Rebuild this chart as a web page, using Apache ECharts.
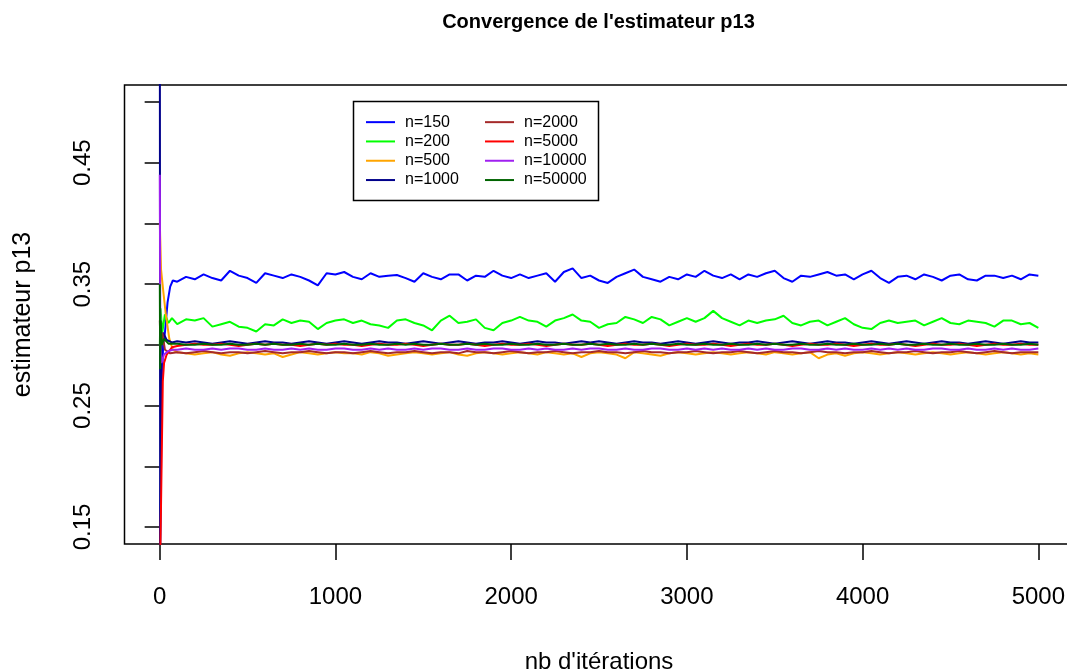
<!DOCTYPE html>
<html>
<head>
<meta charset="utf-8">
<script src="https://cdn.jsdelivr.net/npm/echarts@6/dist/echarts.min.js"></script>
<style>
  html, body { margin: 0; padding: 0; background: #fff; }
  #chart { width: 1067px; height: 672px; }
</style>
</head>
<body>
<div id="chart"></div>
<script>
// iterations où l'estimateur est relevé (après la phase de démarrage)
var iterations = [
  100,150,200,250,300,350,400,450,500,550,
  600,650,700,750,800,850,900,950,1000,1050,
  1100,1150,1200,1250,1300,1350,1400,1450,1500,1550,
  1600,1650,1700,1750,1800,1850,1900,1950,2000,2050,
  2100,2150,2200,2250,2300,2350,2400,2450,2500,2550,
  2600,2650,2700,2750,2800,2850,2900,2950,3000,3050,
  3100,3150,3200,3250,3300,3350,3400,3450,3500,3550,
  3600,3650,3700,3750,3800,3850,3900,3950,4000,4050,
  4100,4150,4200,4250,4300,4350,4400,4450,4500,4550,
  4600,4650,4700,4750,4800,4850,4900,4950,5000
];

// premières itérations : [iteration, p13]
var debut150 = [[1,0.12],[8,0.20],[10,0.256],[20,0.30],[30,0.31],[45,0.335],[60,0.348],[75,0.353]];
var debut200 = [[1,0.30],[5,0.33],[15,0.31],[30,0.325],[50,0.318],[70,0.322]];
var debut500 = [[1,0.40],[8,0.362],[20,0.345],[35,0.325],[55,0.305],[75,0.296]];
var debut1000 = [[1,0.60],[3,0.13],[6,0.20],[10,0.30],[20,0.31],[40,0.304],[70,0.302]];
var debut2000 = [[1,0.32],[5,0.30],[15,0.31],[30,0.296],[60,0.293]];
var debut5000 = [[1,0.10],[18,0.27],[25,0.285],[40,0.292],[70,0.298]];
var debut10000 = [[1,0.44],[4,0.30],[10,0.285],[25,0.292],[50,0.295],[75,0.296]];
var debut50000 = [[1,0.35],[3,0.28],[6,0.32],[12,0.30],[25,0.305],[50,0.301]];

var p150 = [
  0.352,0.356,0.354,0.358,0.355,0.353,0.361,0.357,0.355,0.351,
  0.359,0.357,0.355,0.358,0.356,0.353,0.349,0.359,0.358,0.360,
  0.356,0.354,0.359,0.356,0.357,0.3575,0.355,0.352,0.359,0.356,
  0.354,0.358,0.358,0.353,0.357,0.356,0.361,0.357,0.355,0.358,
  0.355,0.357,0.359,0.352,0.360,0.363,0.355,0.357,0.353,0.351,
  0.356,0.359,0.362,0.356,0.354,0.352,0.356,0.354,0.358,0.356,
  0.361,0.357,0.355,0.358,0.354,0.358,0.356,0.359,0.361,0.355,
  0.352,0.357,0.356,0.358,0.360,0.357,0.358,0.354,0.358,0.361,
  0.355,0.351,0.356,0.357,0.354,0.358,0.356,0.353,0.357,0.358,
  0.354,0.353,0.357,0.357,0.355,0.357,0.354,0.358,0.357
];
var p200 = [
  0.317,0.321,0.320,0.322,0.315,0.317,0.319,0.315,0.314,0.311,
  0.317,0.316,0.321,0.318,0.320,0.319,0.313,0.318,0.320,0.321,
  0.318,0.320,0.317,0.316,0.314,0.320,0.321,0.318,0.316,0.312,
  0.320,0.324,0.318,0.319,0.321,0.314,0.312,0.318,0.320,0.323,
  0.320,0.319,0.315,0.320,0.322,0.325,0.320,0.319,0.314,0.317,
  0.318,0.323,0.321,0.318,0.323,0.321,0.316,0.319,0.322,0.319,
  0.322,0.328,0.322,0.319,0.316,0.320,0.318,0.320,0.321,0.324,
  0.318,0.316,0.319,0.320,0.316,0.319,0.322,0.317,0.314,0.313,
  0.318,0.320,0.318,0.319,0.320,0.316,0.319,0.322,0.318,0.317,
  0.320,0.319,0.318,0.315,0.320,0.320,0.317,0.318,0.314
];
var p500 = [
  0.294,0.293,0.292,0.293,0.294,0.292,0.291,0.293,0.294,0.293,
  0.292,0.293,0.290,0.292,0.294,0.293,0.292,0.293,0.294,0.293,
  0.293,0.292,0.294,0.293,0.291,0.292,0.293,0.294,0.293,0.292,
  0.293,0.294,0.292,0.291,0.293,0.294,0.293,0.292,0.293,0.294,
  0.293,0.292,0.294,0.293,0.292,0.293,0.290,0.293,0.294,0.293,
  0.292,0.289,0.294,0.293,0.292,0.291,0.293,0.294,0.293,0.292,
  0.293,0.294,0.293,0.292,0.293,0.294,0.293,0.292,0.294,0.293,
  0.292,0.293,0.294,0.289,0.292,0.293,0.291,0.293,0.294,0.293,
  0.292,0.293,0.294,0.293,0.292,0.293,0.294,0.293,0.292,0.293,
  0.294,0.293,0.292,0.293,0.294,0.293,0.292,0.293,0.292
];
var p1000 = [
  0.303,0.302,0.303,0.302,0.301,0.302,0.303,0.302,0.301,0.302,
  0.303,0.302,0.302,0.301,0.302,0.303,0.302,0.301,0.302,0.303,
  0.302,0.301,0.302,0.303,0.302,0.302,0.301,0.302,0.303,0.302,
  0.301,0.302,0.303,0.302,0.301,0.302,0.302,0.303,0.302,0.301,
  0.302,0.303,0.302,0.302,0.301,0.302,0.303,0.302,0.303,0.302,
  0.301,0.302,0.303,0.302,0.302,0.301,0.302,0.303,0.302,0.301,
  0.302,0.303,0.302,0.301,0.302,0.302,0.303,0.302,0.301,0.302,
  0.303,0.302,0.301,0.302,0.303,0.302,0.302,0.301,0.302,0.303,
  0.302,0.301,0.302,0.303,0.302,0.301,0.302,0.303,0.302,0.302,
  0.301,0.302,0.303,0.302,0.301,0.302,0.303,0.302,0.302
];
var p2000 = [
  0.294,0.293,0.294,0.295,0.294,0.293,0.294,0.294,0.293,0.294,
  0.295,0.294,0.293,0.294,0.294,0.295,0.294,0.293,0.294,0.294,
  0.293,0.294,0.295,0.294,0.293,0.294,0.294,0.295,0.294,0.293,
  0.294,0.294,0.293,0.295,0.294,0.294,0.293,0.294,0.295,0.294,
  0.293,0.294,0.294,0.295,0.294,0.293,0.294,0.294,0.295,0.294,
  0.294,0.293,0.294,0.295,0.294,0.294,0.293,0.294,0.294,0.295,
  0.294,0.293,0.294,0.294,0.295,0.294,0.293,0.294,0.295,0.294,
  0.294,0.293,0.294,0.295,0.294,0.294,0.293,0.294,0.294,0.295,
  0.294,0.293,0.294,0.294,0.295,0.294,0.293,0.294,0.294,0.295,
  0.294,0.293,0.294,0.295,0.294,0.293,0.294,0.294,0.294
];
var p5000 = [
  0.299,0.300,0.301,0.300,0.300,0.301,0.300,0.299,0.300,0.301,
  0.300,0.301,0.300,0.300,0.299,0.300,0.301,0.300,0.301,0.300,
  0.300,0.299,0.300,0.301,0.300,0.300,0.301,0.300,0.299,0.300,
  0.301,0.300,0.300,0.301,0.300,0.299,0.300,0.301,0.300,0.300,
  0.301,0.300,0.299,0.300,0.301,0.300,0.300,0.301,0.300,0.299,
  0.300,0.301,0.300,0.300,0.301,0.300,0.299,0.300,0.301,0.300,
  0.300,0.301,0.300,0.299,0.300,0.301,0.300,0.300,0.301,0.300,
  0.299,0.300,0.301,0.300,0.300,0.301,0.300,0.299,0.300,0.301,
  0.300,0.300,0.301,0.300,0.299,0.300,0.301,0.300,0.300,0.301,
  0.300,0.299,0.300,0.301,0.300,0.300,0.301,0.300,0.300
];
var p10000 = [
  0.296,0.297,0.296,0.296,0.297,0.296,0.297,0.297,0.296,0.296,
  0.297,0.296,0.296,0.297,0.296,0.297,0.296,0.296,0.297,0.297,
  0.296,0.296,0.297,0.296,0.297,0.296,0.296,0.297,0.296,0.297,
  0.297,0.296,0.296,0.297,0.296,0.296,0.297,0.297,0.296,0.296,
  0.297,0.296,0.297,0.296,0.296,0.297,0.296,0.297,0.297,0.296,
  0.296,0.297,0.296,0.296,0.297,0.297,0.296,0.296,0.297,0.296,
  0.297,0.296,0.297,0.296,0.296,0.297,0.296,0.297,0.296,0.296,
  0.297,0.297,0.296,0.296,0.297,0.296,0.297,0.296,0.296,0.297,
  0.296,0.297,0.296,0.297,0.296,0.296,0.297,0.297,0.296,0.296,
  0.297,0.296,0.296,0.297,0.296,0.297,0.296,0.296,0.297
];
var p50000 = [
  0.301,0.300,0.300,0.301,0.300,0.300,0.301,0.300,0.300,0.301,
  0.300,0.301,0.300,0.300,0.301,0.300,0.301,0.300,0.300,0.301,
  0.300,0.300,0.301,0.300,0.300,0.301,0.300,0.301,0.300,0.300,
  0.301,0.300,0.300,0.301,0.300,0.301,0.300,0.300,0.301,0.300,
  0.300,0.301,0.300,0.300,0.301,0.300,0.300,0.301,0.300,0.301,
  0.300,0.300,0.301,0.300,0.301,0.300,0.300,0.301,0.300,0.300,
  0.301,0.300,0.300,0.301,0.300,0.300,0.301,0.300,0.301,0.300,
  0.300,0.301,0.300,0.300,0.301,0.300,0.300,0.301,0.300,0.300,
  0.301,0.300,0.301,0.300,0.300,0.301,0.300,0.300,0.301,0.300,
  0.300,0.301,0.300,0.300,0.301,0.300,0.300,0.301,0.300
];

var noms = ['n=150','n=200','n=500','n=1000','n=2000','n=5000','n=10000','n=50000'];
var couleurs = ['#0000FF','#00FF00','#FFA500','#00008B','#A52A2A','#FF0000','#A020F0','#006400'];
var debuts = [debut150, debut200, debut500, debut1000, debut2000, debut5000, debut10000, debut50000];
var valeurs = [p150, p200, p500, p1000, p2000, p5000, p10000, p50000];

var xTicks = [0, 1000, 2000, 3000, 4000, 5000];
var yTicks = [0.15, 0.20, 0.25, 0.30, 0.35, 0.40, 0.45, 0.50];
var yLabels = [0.15, 0.25, 0.35, 0.45];

var police = 'Liberation Sans, Arial, sans-serif';

var myChart = echarts.init(document.getElementById('chart'));

var series = noms.map(function (nom, k) {
  var pts = debuts[k].concat(iterations.map(function (it, i) { return [it, valeurs[k][i]]; }));
  return {
    name: nom,
    type: 'line',
    data: pts,
    showSymbol: false,
    symbol: 'none',
    lineStyle: { color: couleurs[k], width: 2 },
    itemStyle: { color: couleurs[k] },
    animation: false
  };
});

var legendeCommune = {
  orient: 'vertical',
  top: 112.5,
  padding: 0,
  itemGap: 0,
  itemWidth: 29,
  itemHeight: 2,
  icon: 'rect',
  selectedMode: false,
  textStyle: { fontFamily: police, fontSize: 16, color: '#000', lineHeight: 19.3, padding: [0, 0, 0, 5] }
};

var option = {
  backgroundColor: '#fff',
  animation: false,
  title: {
    text: "Convergence de l'estimateur p13",
    left: 598.5,
    top: 12,
    padding: 0,
    textAlign: 'center',
    textStyle: { fontFamily: police, fontSize: 20, fontWeight: 'bold', color: '#000' }
  },
  legend: [
    Object.assign({}, legendeCommune, { left: 366, data: noms.slice(0, 4) }),
    Object.assign({}, legendeCommune, { left: 485, data: noms.slice(4) })
  ],
  graphic: [{
    type: 'rect',
    shape: { x: 353.5, y: 101.5, width: 245, height: 99 },
    style: { fill: 'none', stroke: '#000', lineWidth: 1.5 },
    z: 10
  }],
  grid: {
    left: 124.5,
    top: 85,
    width: 949,
    height: 459,
    outerBoundsMode: 'none',
    show: true,
    borderColor: '#000',
    borderWidth: 1.5,
    backgroundColor: 'transparent'
  },
  xAxis: {
    type: 'value',
    min: -200,
    max: 5200,
    name: "nb d'itérations",
    nameLocation: 'middle',
    nameGap: 106,
    nameTextStyle: { fontFamily: police, fontSize: 24, color: '#000' },
    axisLine: { show: false },
    splitLine: { show: false },
    axisTick: { show: true, length: 16, customValues: xTicks, lineStyle: { color: '#000', width: 1.5 } },
    axisLabel: {
      customValues: xTicks,
      margin: 41,
      fontFamily: police,
      fontSize: 24,
      color: '#000',
      formatter: function (v) { return String(v); }
    }
  },
  yAxis: {
    type: 'value',
    min: 0.136,
    max: 0.514,
    name: 'estimateur p13',
    nameLocation: 'middle',
    nameRotate: 90,
    nameGap: 89,
    nameTextStyle: { fontFamily: police, fontSize: 25, color: '#000' },
    axisLine: { show: false },
    splitLine: { show: false },
    axisTick: { show: true, length: 15, customValues: yTicks, lineStyle: { color: '#000', width: 1.5 } },
    axisLabel: {
      customValues: yLabels,
      rotate: 90,
      margin: 29,
      fontFamily: police,
      fontSize: 24,
      color: '#000',
      formatter: function (v) { return v.toFixed(2); }
    }
  },
  series: series
};

myChart.setOption(option);
</script>
</body>
</html>
